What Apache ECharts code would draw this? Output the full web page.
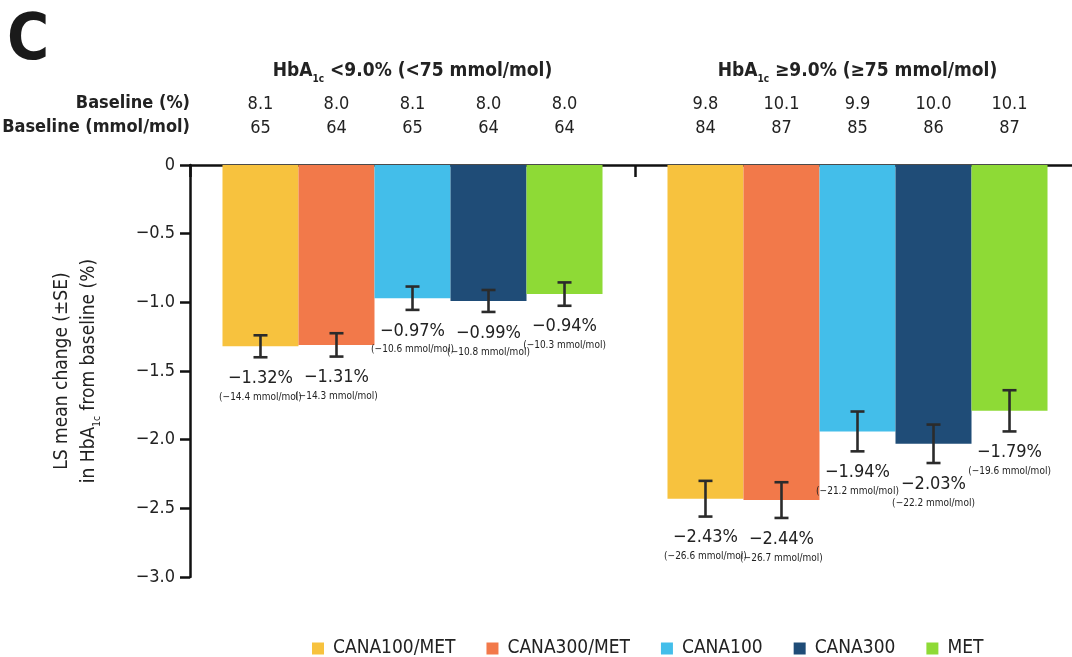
<!DOCTYPE html>
<html>
<head>
<meta charset="utf-8">
<script src="https://cdn.jsdelivr.net/npm/echarts@6/dist/echarts.min.js"></script>
<style>
html,body{margin:0;padding:0;background:#fff;}
#chart{width:1072px;height:657px;}
</style>
</head>
<body>
<div id="chart"></div>
<script>
// ---- data ----
const categories = ['HbA{sub|1c} <9.0% (<75 mmol/mol)', 'HbA{sub|1c} ≥9.0% (≥75 mmol/mol)'];
const treatments = ['CANA100/MET', 'CANA300/MET', 'CANA100', 'CANA300', 'MET'];
const lsChange = [[-1.32, -2.43], [-1.31, -2.44], [-0.97, -1.94], [-0.99, -2.03], [-0.94, -1.79]];
const seValues = [[0.08, 0.13], [0.085, 0.13], [0.085, 0.145], [0.08, 0.14], [0.085, 0.15]];
const mmolChange = [['−14.4', '−26.6'], ['−14.3', '−26.7'], ['−10.6', '−21.2'], ['−10.8', '−22.2'], ['−10.3', '−19.6']];
const baselinePct = [['8.1', '9.8'], ['8.0', '10.1'], ['8.1', '9.9'], ['8.0', '10.0'], ['8.0', '10.1']];
const baselineMmol = [['65', '84'], ['64', '87'], ['65', '85'], ['64', '86'], ['64', '87']];
const yTicks = [0, -0.5, -1.0, -1.5, -2.0, -2.5, -3.0];
const colors = ['#F7C23E', '#F2794A', '#43BEEA', '#1F4C77', '#8EDA36'];

const FONT = "'Liberation Sans Narrow', 'DejaVu Sans Condensed', 'Liberation Sans', sans-serif";
const TXT = '#222';
const GAP = 0.146;
const N = treatments.length;

const chart = echarts.init(document.getElementById('chart'));

const fmtMinus = v => (v < 0 ? '−' : '') + Math.abs(v).toFixed(2) + '%';

// custom data: one item per bar
const errData = [];
treatments.forEach((t, k) => {
  categories.forEach((c, ci) => {
    errData.push([ci, k, lsChange[k][ci], seValues[k][ci]]);
  });
});

function renderItem(params, api) {
  const ci = api.value(0), k = api.value(1), v = api.value(2), se = api.value(3);
  const bw = api.size([1, 0])[0];
  const barW = bw * (1 - GAP) / N;
  const zero = api.coord([ci, 0]);
  const x = zero[0] + (k - (N - 1) / 2) * barW;
  const yTop = api.coord([ci, v + se])[1];
  const yBot = api.coord([ci, v - se])[1];
  const cap = 7;
  const ls = { stroke: '#2b2b2b', lineWidth: 2.6 };
  return {
    type: 'group',
    children: [
      { type: 'line', shape: { x1: x, y1: yTop, x2: x, y2: yBot }, style: ls },
      { type: 'line', shape: { x1: x - cap, y1: yTop, x2: x + cap, y2: yTop }, style: ls },
      { type: 'line', shape: { x1: x - cap, y1: yBot, x2: x + cap, y2: yBot }, style: ls },
      { type: 'text', x: x, y: yBot + 21, style: { text: fmtMinus(v), fill: TXT, font: '18px ' + FONT, align: 'center', verticalAlign: 'middle' } },
      { type: 'text', x: x, y: yBot + 40, style: { text: '(' + mmolChange[k][ci] + ' mmol/mol)', fill: TXT, font: '10px ' + FONT, align: 'center', verticalAlign: 'middle' } },
      { type: 'text', x: x, y: zero[1] - 61, style: { text: baselinePct[k][ci], fill: TXT, font: '18px ' + FONT, align: 'center', verticalAlign: 'middle' } },
      { type: 'text', x: x, y: zero[1] - 37, style: { text: baselineMmol[k][ci], fill: TXT, font: '18px ' + FONT, align: 'center', verticalAlign: 'middle' } }
    ]
  };
}

const barSeries = treatments.map((t, k) => ({
  name: t,
  type: 'bar',
  data: lsChange[k],
  barGap: '0%',
  barCategoryGap: (GAP * 100) + '%',
  itemStyle: { color: colors[k] },
  silent: true
}));

chart.setOption({
  animation: false,
  backgroundColor: '#fff',
  textStyle: { fontFamily: FONT },
  grid: { left: 190, top: 165, width: 890, height: 412, containLabel: false, outerBoundsMode: 'none' },
  xAxis: {
    type: 'category',
    position: 'top',
    data: categories,
    axisLine: { show: true, lineStyle: { color: '#111', width: 2.5 } },
    axisTick: { show: true, inside: true, length: 12, interval: 0, lineStyle: { color: '#111', width: 2.5 } },
    axisLabel: {
      interval: 0,
      hideOverlap: false,
      margin: 81,
      color: TXT,
      fontFamily: FONT,
      fontWeight: 'bold',
      fontSize: 19,
      rich: { sub: { fontSize: 10, fontWeight: 'bold', fontFamily: FONT, padding: [16, 0, 0, 0], color: TXT } }
    },
    splitLine: { show: false }
  },
  yAxis: {
    type: 'value',
    min: -3,
    max: 0,
    interval: 0.5,
    axisLine: { show: true, lineStyle: { color: '#111', width: 2.5 } },
    axisTick: { show: true, length: 10, lineStyle: { color: '#111', width: 2.5 } },
    axisLabel: {
      margin: 15,
      color: TXT,
      fontSize: 18,
      fontFamily: FONT,
      formatter: v => (yTicks.indexOf(v) < 0 ? '' : (v === 0 ? '0' : '−' + Math.abs(v).toFixed(1)))
    },
    splitLine: { show: false },
    name: 'LS mean change (±SE)\nin HbA{sub|1c} from baseline (%)',
    nameLocation: 'middle',
    nameRotate: 90,
    nameGap: 87,
    nameTextStyle: {
      color: TXT,
      fontSize: 19,
      fontFamily: FONT,
      lineHeight: 27,
      align: 'center',
      rich: { sub: { fontSize: 10, fontFamily: FONT, color: TXT, padding: [16, 0, 0, 0] } }
    }
  },
  legend: {
    data: treatments,
    left: 307,
    top: 634,
    icon: 'rect',
    itemWidth: 12,
    itemHeight: 12,
    itemGap: 31,
    textStyle: { color: TXT, fontSize: 19, fontFamily: FONT, padding: [0, 0, 0, 4] },
    selectedMode: false
  },
  graphic: [
    { type: 'text', left: 7, top: 10, style: { text: 'C', fill: '#1a1a1a', font: 'bold 64px ' + FONT } },
    { type: 'text', right: 1072 - 190, top: 94, style: { text: 'Baseline (%)', fill: TXT, font: 'bold 18px ' + FONT, align: 'right' } },
    { type: 'text', right: 1072 - 190, top: 118, style: { text: 'Baseline (mmol/mol)', fill: TXT, font: 'bold 18px ' + FONT, align: 'right' } }
  ],
  series: barSeries.concat([{
    type: 'custom',
    name: 'errors',
    renderItem: renderItem,
    data: errData,
    encode: { x: 0, y: 2 },
    clip: false,
    silent: true,
    z: 5
  }])
});
</script>
</body>
</html>
